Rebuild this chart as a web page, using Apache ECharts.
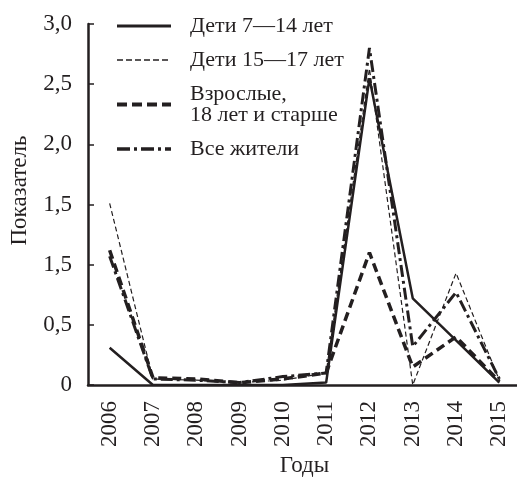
<!DOCTYPE html>
<html>
<head>
<meta charset="utf-8">
<script src="https://cdn.jsdelivr.net/npm/echarts@6/dist/echarts.min.js"></script>
<style>
html,body{margin:0;padding:0;background:#fff;}
#c{width:517px;height:481px;}
</style>
</head>
<body>
<div id="c"></div>
<script>
var years = ['2006','2007','2008','2009','2010','2011','2012','2013','2014','2015'];
var yTickLabels = ['0','0,5','1,5','1,5','2,0','2,5','3,0'];
var seriesNames = ['Дети 7\u201414 лет','Дети 15\u201417 лет','Взрослые,\n18 лет и старше','Все жители'];
var children7_14 = [0.31, 0, 0, 0, 0, 0.02, 2.55, 0.72, 0.37, 0.02];
var children15_17 = [1.51, 0.05, 0.04, 0.02, 0.04, 0.10, 2.63, 0.0, 0.93, 0.04];
var adults18 = [1.12, 0.06, 0.05, 0.02, 0.05, 0.10, 1.10, 0.15, 0.40, 0.03];
var allResidents = [1.07, 0.05, 0.04, 0.02, 0.07, 0.10, 2.80, 0.32, 0.77, 0.05];

var FONT = '"Liberation Serif", "DejaVu Serif", serif';
var chart = echarts.init(document.getElementById('c'), null, {renderer:'canvas'});
var styles = [
  {width:2.5, type:'solid'},
  {width:1.2, type:[5,3]},
  {width:3.5, type:[9,5]},
  {width:3, type:[12,4,3,4]}
];
var legendStyles = [
  {width:3, type:'solid'},
  {width:1.5, type:[6,3]},
  {width:4, type:[10,5]},
  {width:3.5, type:[13,4,3,4]}
];
var datas = [children7_14, children15_17, adults18, allResidents];
chart.setOption({
  animation:false,
  backgroundColor:'#fff',
  textStyle:{fontFamily:FONT, color:'#231f20'},
  legend:{
    orient:'vertical', left:110, top:10,
    itemWidth:54, itemHeight:14, itemGap:12,
    itemStyle:{opacity:0},
    textStyle:{fontFamily:FONT, fontSize:22, color:'#231f20', lineHeight:21, padding:[0,0,0,14]},
    data:seriesNames.map(function(n, i){
      return {name:n, lineStyle:{color:'#231f20', width:legendStyles[i].width, type:legendStyles[i].type}};
    })
  },
  grid:{left:88, top:24, width:433, height:361, containLabel:false, outerBoundsMode:'none'},
  xAxis:{
    type:'category', data:years, boundaryGap:true,
    name:'Годы', nameLocation:'middle', nameGap:68,
    nameTextStyle:{fontFamily:FONT, fontSize:23, color:'#231f20'},
    axisLine:{lineStyle:{color:'#231f20', width:2.5}},
    axisTick:{inside:true, length:6, lineStyle:{color:'#231f20', width:1.5}},
    axisLabel:{rotate:90, fontFamily:FONT, fontSize:23, color:'#231f20', margin:16}
  },
  yAxis:{
    type:'value', min:0, max:3, interval:0.5,
    name:'Показатель', nameLocation:'middle', nameGap:57,
    nameTextStyle:{fontFamily:FONT, fontSize:23, color:'#231f20', padding:[0,0,0,28]},
    axisLine:{show:true, lineStyle:{color:'#231f20', width:2.5}},
    axisTick:{show:true, inside:true, length:6, lineStyle:{color:'#231f20', width:1.5}},
    splitLine:{show:false},
    axisLabel:{fontFamily:FONT, fontSize:23, color:'#231f20', margin:16,
      formatter:function(v, i){ return yTickLabels[i]; }}
  },
  series:datas.map(function(d, i){
    return {
      name:seriesNames[i], type:'line', data:d, symbol:'none', showSymbol:false,
      lineStyle:{color:'#231f20', width:styles[i].width, type:styles[i].type},
      itemStyle:{color:'#231f20'}
    };
  })
});
</script>
</body>
</html>
